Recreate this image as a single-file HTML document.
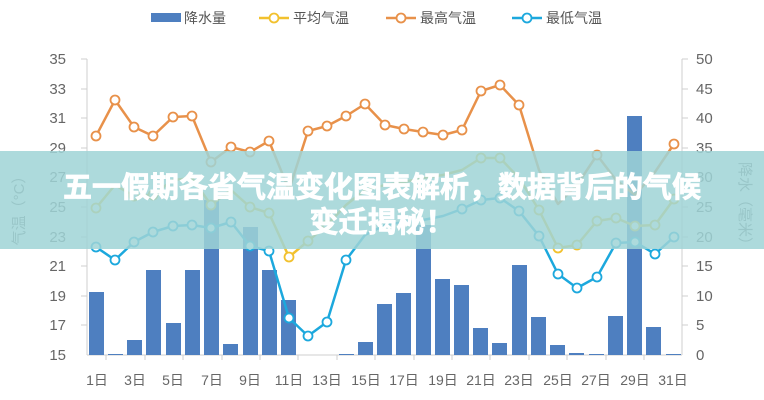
<!DOCTYPE html>
<html><head><meta charset="utf-8"><style>
html,body{margin:0;padding:0;background:#fff;}
svg{display:block;font-family:"Liberation Sans","Noto Sans CJK SC",sans-serif;}
</style></head><body>
<svg width="764" height="400" viewBox="0 0 764 400" xmlns="http://www.w3.org/2000/svg">
<rect width="764" height="400" fill="#fff"/>
<!-- legend -->
<g font-size="14" fill="#555">
<rect x="151" y="13" width="30" height="9" fill="#4e7fc0"/><text x="184" y="23">降水量</text>
<line x1="259" y1="18" x2="289" y2="18" stroke="#f2c12e" stroke-width="2.5"/><circle cx="274" cy="18" r="4.5" fill="#fff" stroke="#f2c12e" stroke-width="1.8"/><text x="293" y="23">平均气温</text>
<line x1="386" y1="18" x2="416" y2="18" stroke="#e8914a" stroke-width="2.5"/><circle cx="401" cy="18" r="4.5" fill="#fff" stroke="#e8914a" stroke-width="1.8"/><text x="420" y="23">最高气温</text>
<line x1="512" y1="18" x2="542" y2="18" stroke="#1ca8dd" stroke-width="2.5"/><circle cx="527" cy="18" r="4.5" fill="#fff" stroke="#1ca8dd" stroke-width="1.8"/><text x="546" y="23">最低气温</text>
</g>
<!-- axes -->
<g stroke="#cfcfcf" stroke-width="1">
<line x1="87" y1="59" x2="87" y2="355"/>
<line x1="682" y1="59" x2="682" y2="355"/>
<line x1="87" y1="355" x2="682" y2="355"/>
</g>
<g font-size="15" fill="#666" text-anchor="end">
<text x="66" y="64">35</text><text x="66" y="94">33</text><text x="66" y="123">31</text><text x="66" y="153">29</text><text x="66" y="182">27</text><text x="66" y="212">25</text><text x="66" y="242">23</text><text x="66" y="271">21</text><text x="66" y="301">19</text><text x="66" y="330">17</text><text x="66" y="360">15</text>
</g>
<g stroke="#cfcfcf"><line x1="81" y1="59" x2="87" y2="59"/><line x1="81" y1="89" x2="87" y2="89"/><line x1="81" y1="118" x2="87" y2="118"/><line x1="81" y1="148" x2="87" y2="148"/><line x1="81" y1="177" x2="87" y2="177"/><line x1="81" y1="207" x2="87" y2="207"/><line x1="81" y1="237" x2="87" y2="237"/><line x1="81" y1="266" x2="87" y2="266"/><line x1="81" y1="296" x2="87" y2="296"/><line x1="81" y1="325" x2="87" y2="325"/>
<line x1="682" y1="59" x2="688" y2="59"/><line x1="682" y1="89" x2="688" y2="89"/><line x1="682" y1="118" x2="688" y2="118"/><line x1="682" y1="148" x2="688" y2="148"/><line x1="682" y1="177" x2="688" y2="177"/><line x1="682" y1="207" x2="688" y2="207"/><line x1="682" y1="237" x2="688" y2="237"/><line x1="682" y1="266" x2="688" y2="266"/><line x1="682" y1="296" x2="688" y2="296"/><line x1="682" y1="325" x2="688" y2="325"/></g>
<g font-size="15" fill="#666">
<text x="696" y="64">50</text><text x="696" y="94">45</text><text x="696" y="123">40</text><text x="696" y="153">35</text><text x="696" y="182">30</text><text x="696" y="212">25</text><text x="696" y="242">20</text><text x="696" y="271">15</text><text x="696" y="301">10</text><text x="696" y="330">5</text><text x="696" y="360">0</text>
</g>
<text font-size="15" fill="#777" transform="translate(24,207) rotate(-90)" text-anchor="middle">气温（°C）</text>
<text font-size="15" fill="#777" transform="translate(740,207) rotate(90)" text-anchor="middle">降水（毫米）</text>
<!-- x labels -->
<g font-size="14" fill="#666" text-anchor="middle">
<text x="97" y="385">1日</text><text x="135" y="385">3日</text><text x="173" y="385">5日</text><text x="212" y="385">7日</text><text x="250" y="385">9日</text><text x="289" y="385">11日</text><text x="327" y="385">13日</text><text x="366" y="385">15日</text><text x="404" y="385">17日</text><text x="443" y="385">19日</text><text x="481" y="385">21日</text><text x="519" y="385">23日</text><text x="558" y="385">25日</text><text x="596" y="385">27日</text><text x="635" y="385">29日</text><text x="673" y="385">31日</text>
</g>
<g stroke="#cfcfcf">
<line x1="106" y1="355" x2="106" y2="360"/><line x1="145" y1="355" x2="145" y2="360"/><line x1="183" y1="355" x2="183" y2="360"/><line x1="222" y1="355" x2="222" y2="360"/><line x1="260" y1="355" x2="260" y2="360"/><line x1="298" y1="355" x2="298" y2="360"/><line x1="337" y1="355" x2="337" y2="360"/><line x1="375" y1="355" x2="375" y2="360"/><line x1="414" y1="355" x2="414" y2="360"/><line x1="452" y1="355" x2="452" y2="360"/><line x1="490" y1="355" x2="490" y2="360"/><line x1="529" y1="355" x2="529" y2="360"/><line x1="567" y1="355" x2="567" y2="360"/><line x1="606" y1="355" x2="606" y2="360"/><line x1="644" y1="355" x2="644" y2="360"/>
</g>
<!-- bars -->
<g fill="#4e7fc0">
<rect x="89" y="292" width="15" height="63"/><rect x="108" y="354" width="15" height="1"/><rect x="127" y="340" width="15" height="15"/><rect x="146" y="270" width="15" height="85"/><rect x="166" y="323" width="15" height="32"/><rect x="185" y="270" width="15" height="85"/><rect x="204" y="200" width="15" height="155"/><rect x="223" y="344" width="15" height="11"/><rect x="243" y="227" width="15" height="128"/><rect x="262" y="270" width="15" height="85"/><rect x="281" y="300" width="15" height="55"/>
<rect x="339" y="354" width="15" height="1"/><rect x="358" y="342" width="15" height="13"/><rect x="377" y="304" width="15" height="51"/><rect x="396" y="293" width="15" height="62"/><rect x="416" y="225" width="15" height="130"/><rect x="435" y="279" width="15" height="76"/><rect x="454" y="285" width="15" height="70"/><rect x="473" y="328" width="15" height="27"/><rect x="492" y="343" width="15" height="12"/><rect x="512" y="265" width="15" height="90"/><rect x="531" y="317" width="15" height="38"/><rect x="550" y="345" width="15" height="10"/><rect x="569" y="353" width="15" height="2"/><rect x="589" y="354" width="15" height="1"/><rect x="608" y="316" width="15" height="39"/><rect x="627" y="116" width="15" height="239"/><rect x="646" y="327" width="15" height="28"/><rect x="666" y="354" width="15" height="1"/>
</g>
<!-- lines -->
<g fill="none" stroke-width="2.5" stroke-linejoin="round">
<polyline stroke="#e8914a" points="96,136 115,100 134,127 153,136 173,117 192,116 211,162 231,147 250,152 269,141 289,190 308,131 327,126 346,116 365,104 385,125 404,129 423,132 443,135 462,130 481,91 500,85 519,105 539,170 558,204 577,185 597,155 616,180 635,195 655,172 674,144"/>
<polyline stroke="#f2c12e" points="96,208 115,185 134,196 153,195 173,180 192,178 211,205 231,190 250,207 269,213 289,257 308,241 327,225 346,205 365,190 385,185 404,182 423,178 443,175 462,170 481,158 500,158 519,178 539,210 558,248 577,245 597,221 616,218 635,226 655,225 674,199"/>
<polyline stroke="#1ca8dd" points="96,247 115,260 134,242 153,232 173,226 192,225 211,228 231,222 250,246 269,251 289,318 308,336 327,322 346,260 365,235 385,225 404,222 423,220 443,216 462,209 481,200 500,198 519,211 539,236 558,274 577,288 597,277 616,243 635,242 655,254 674,237"/>
</g>
<g fill="#fff" stroke-width="1.8">
<g stroke="#e8914a"><circle cx="96" cy="136" r="4.5"/><circle cx="115" cy="100" r="4.5"/><circle cx="134" cy="127" r="4.5"/><circle cx="153" cy="136" r="4.5"/><circle cx="173" cy="117" r="4.5"/><circle cx="192" cy="116" r="4.5"/><circle cx="211" cy="162" r="4.5"/><circle cx="231" cy="147" r="4.5"/><circle cx="250" cy="152" r="4.5"/><circle cx="269" cy="141" r="4.5"/><circle cx="308" cy="131" r="4.5"/><circle cx="327" cy="126" r="4.5"/><circle cx="346" cy="116" r="4.5"/><circle cx="365" cy="104" r="4.5"/><circle cx="385" cy="125" r="4.5"/><circle cx="404" cy="129" r="4.5"/><circle cx="423" cy="132" r="4.5"/><circle cx="443" cy="135" r="4.5"/><circle cx="462" cy="130" r="4.5"/><circle cx="481" cy="91" r="4.5"/><circle cx="500" cy="85" r="4.5"/><circle cx="519" cy="105" r="4.5"/><circle cx="597" cy="155" r="4.5"/><circle cx="674" cy="144" r="4.5"/></g>
<g stroke="#f2c12e"><circle cx="96" cy="208" r="4.5"/><circle cx="134" cy="196" r="4.5"/><circle cx="153" cy="195" r="4.5"/><circle cx="211" cy="205" r="4.5"/><circle cx="250" cy="207" r="4.5"/><circle cx="269" cy="213" r="4.5"/><circle cx="289" cy="257" r="4.5"/><circle cx="308" cy="241" r="4.5"/><circle cx="327" cy="225" r="4.5"/><circle cx="481" cy="158" r="4.5"/><circle cx="500" cy="158" r="4.5"/><circle cx="539" cy="210" r="4.5"/><circle cx="558" cy="248" r="4.5"/><circle cx="577" cy="245" r="4.5"/><circle cx="597" cy="221" r="4.5"/><circle cx="616" cy="218" r="4.5"/><circle cx="635" cy="226" r="4.5"/><circle cx="655" cy="225" r="4.5"/><circle cx="674" cy="199" r="4.5"/></g>
<g stroke="#1ca8dd"><circle cx="96" cy="247" r="4.5"/><circle cx="115" cy="260" r="4.5"/><circle cx="134" cy="242" r="4.5"/><circle cx="153" cy="232" r="4.5"/><circle cx="173" cy="226" r="4.5"/><circle cx="192" cy="225" r="4.5"/><circle cx="211" cy="228" r="4.5"/><circle cx="231" cy="222" r="4.5"/><circle cx="250" cy="246" r="4.5"/><circle cx="269" cy="251" r="4.5"/><circle cx="289" cy="318" r="4.5"/><circle cx="308" cy="336" r="4.5"/><circle cx="327" cy="322" r="4.5"/><circle cx="346" cy="260" r="4.5"/><circle cx="462" cy="209" r="4.5"/><circle cx="481" cy="200" r="4.5"/><circle cx="500" cy="198" r="4.5"/><circle cx="519" cy="211" r="4.5"/><circle cx="539" cy="236" r="4.5"/><circle cx="558" cy="274" r="4.5"/><circle cx="577" cy="288" r="4.5"/><circle cx="597" cy="277" r="4.5"/><circle cx="616" cy="243" r="4.5"/><circle cx="635" cy="242" r="4.5"/><circle cx="655" cy="254" r="4.5"/><circle cx="674" cy="237" r="4.5"/></g>
</g>
<!-- banner -->
<rect x="0" y="151" width="764" height="98" fill="#9fd3d6" fill-opacity="0.85"/>
<g font-size="29" font-weight="bold" fill="#fff" stroke="#fff" stroke-width="0.8" text-anchor="middle" font-family="'Noto Sans CJK SC',sans-serif">
<text x="382" y="197">五一假期各省气温变化图表解析，数据背后的气候</text>
<text x="382" y="232">变迁揭秘！</text>
</g>
</svg>
</body></html>
